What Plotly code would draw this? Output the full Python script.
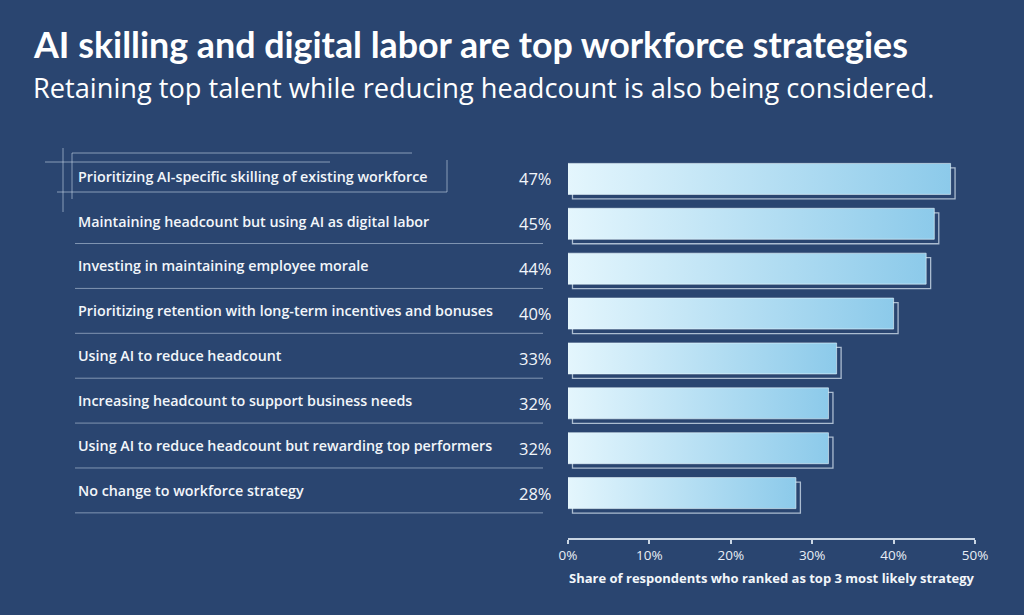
import plotly.graph_objects as go

# Data (top to bottom)
strategies = [
    "Prioritizing AI-specific skilling of existing workforce",
    "Maintaining headcount but using AI as digital labor",
    "Investing in maintaining employee morale",
    "Prioritizing retention with long-term incentives and bonuses",
    "Using AI to reduce headcount",
    "Increasing headcount to support business needs",
    "Using AI to reduce headcount but rewarding top performers",
    "No change to workforce strategy",
]
shares = [47, 45, 44, 40, 33, 32, 32, 28]
tick_vals = [0, 10, 20, 30, 40, 50]
tick_text = ["0%", "10%", "20%", "30%", "40%", "50%"]

BG = "#2a4570"
LINE = "rgba(215,228,240,0.75)"
W, H = 1024, 615
L, R, T, B = 568, 49, 134, 77   # plot area in pixels

half = 0.345      # half bar height (category units)
dx, dy = 0.55, 0.10   # offset of the outline frame

fig = go.Figure()

for i, v in enumerate(shares):
    # offset outline frame behind the bar
    fig.add_trace(go.Scatter(
        x=[dx, v + dx, v + dx, dx, dx],
        y=[i - half + dy, i - half + dy, i + half + dy, i + half + dy, i - half + dy],
        mode="lines", line=dict(color=LINE, width=1.3),
        hoverinfo="skip", showlegend=False,
    ))
    # gradient bar
    fig.add_trace(go.Scatter(
        x=[0, v, v, 0, 0],
        y=[i - half, i - half, i + half, i + half, i - half],
        mode="lines", fill="toself",
        line=dict(color="rgba(235,248,253,0.6)", width=1),
        fillgradient=dict(type="horizontal",
                          colorscale=[[0, "#e4f6fd"], [1, "#8ccaea"]]),
        hovertemplate=f"{strategies[i]}: {v}%<extra></extra>",
        showlegend=False,
    ))


def px_x(p):
    return (p - L) / (W - L - R)


def px_y(p):
    return (H - B - p) / (H - T - B)


annotations = []
for i, (s, v) in enumerate(zip(strategies, shares)):
    annotations.append(dict(
        x=px_x(76), xref="paper", y=i - 0.06, yref="y", text=s, showarrow=False,
        xanchor="left", yanchor="middle",
        font=dict(family="Open Sans", size=14.3, color="#f2f6fa", weight=600),
    ))
    annotations.append(dict(
        x=px_x(554), xref="paper", y=i, yref="y", text=f"{v}%", showarrow=False,
        xanchor="right", yanchor="middle",
        font=dict(family="Open Sans", size=16.5, color="#f2f6fa"),
    ))

annotations.append(dict(
    x=px_x(31), xref="paper", y=px_y(44), yref="paper", showarrow=False,
    text="<b>AI skilling and digital labor are top workforce strategies</b>",
    xanchor="left", yanchor="middle",
    font=dict(family="Lato", size=35.8, color="#ffffff"),
))
annotations.append(dict(
    x=px_x(31), xref="paper", y=px_y(88), yref="paper", showarrow=False,
    text="Retaining top talent while reducing headcount is also being considered.",
    xanchor="left", yanchor="middle",
    font=dict(family="Open Sans", size=27.2, color="#ffffff"),
))

# separator lines under the labels
shapes = []
for i in range(1, len(strategies)):
    shapes.append(dict(type="line", xref="paper", yref="y",
                       x0=px_x(75), x1=px_x(543), y0=i + 0.44, y1=i + 0.44,
                       line=dict(color="rgba(200,215,232,0.55)", width=1)))

# decorative frame around the first label
deco = [
    (63, 148, 63, 212), (72, 153, 72, 199), (72, 153, 412, 153),
    (45, 162, 330, 162), (57, 192, 447, 192), (447, 160, 447, 192),
]
for x0, y0, x1, y1 in deco:
    shapes.append(dict(type="line", xref="paper", yref="paper",
                       x0=px_x(x0), x1=px_x(x1), y0=px_y(y0), y1=px_y(y1),
                       line=dict(color="rgba(200,215,232,0.6)", width=1)))

fig.update_layout(
    width=W, height=H,
    margin=dict(l=L, r=R, t=T, b=B),
    paper_bgcolor=BG, plot_bgcolor=BG,
    annotations=annotations, shapes=shapes,
    xaxis=dict(range=[0, 50], tickvals=tick_vals, ticktext=tick_text,
               showgrid=False, zeroline=False, showline=True,
               linecolor="#c9d5e3", linewidth=1.5,
               ticks="outside", ticklen=4, tickwidth=1.5, tickcolor="#c9d5e3",
               tickfont=dict(family="Open Sans", size=13.5, color="#e8eef5"),
               title=dict(text="<b>Share of respondents who ranked as top 3 most likely strategy</b>",
                          font=dict(family="Open Sans", size=13, color="#f2f6fa"),
                          standoff=11)),
    xaxis2=dict(range=[0, 50], overlaying="x", side="bottom", anchor="y",
                tickvals=tick_vals, showticklabels=False, showgrid=False,
                zeroline=False, showline=False,
                ticks="inside", ticklen=4, tickwidth=1.5, tickcolor="#c9d5e3"),
    yaxis=dict(range=[8, -1], visible=False, fixedrange=True),
)

fig.write_html("out.html", config={"displayModeBar": False},
               post_script="document.body.style.margin='0';")
